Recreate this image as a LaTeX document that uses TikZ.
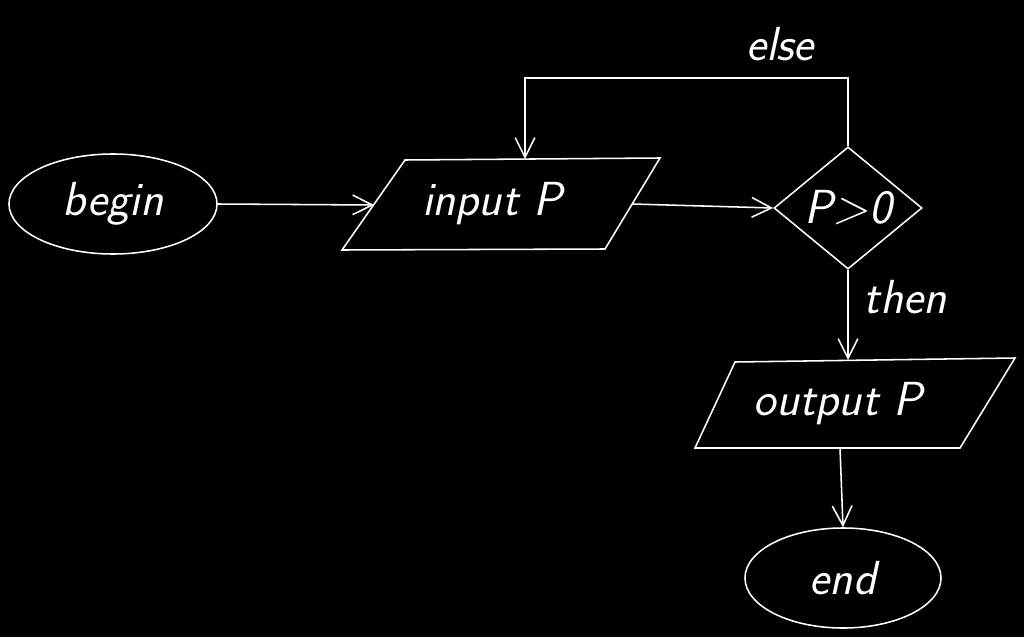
\documentclass[tikz,border=0pt]{standalone}
\usetikzlibrary{shapes.geometric,arrows.meta}
\begin{document}
\begin{tikzpicture}[x=0.025cm,y=-0.025cm,
  line width=1.1pt,
  lbl/.style={text=white,font=\fontsize{34}{40}\selectfont\sffamily\slshape},
  oval/.style={ellipse,draw=white,line width=1.1pt,lbl},
  dec/.style={diamond,draw=white,line width=1.1pt,lbl,inner sep=0pt,minimum width=3.7cm,minimum height=2.85cm},
  arr/.style={-{Straight Barb[length=14pt,width=14pt,line width=1.1pt]},draw=white},
  shp/.style={draw=white,line width=1.1pt}]
\fill[black,draw=none] (0,0) rectangle (1024,637);
\useasboundingbox (0,0) rectangle (1024,637);
% begin
\node[oval,minimum width=5.2cm,minimum height=2.5cm] (begin) at (113,204) {begin};
% input P parallelogram
\draw[shp] (405,160) -- (660,158) -- (605,249) -- (342,250) -- cycle;
\node[lbl] (input) at (492,204) {input P};
\coordinate (inL) at (374,205);
\coordinate (inR) at (632,204);
\coordinate (inTop) at (525,159);
% decision
\node[dec] (dia) at (848,208) {P>0};
% output P parallelogram
\draw[shp] (735,362) -- (1015,358) -- (960,448) -- (695,448) -- cycle;
\node[lbl] (output) at (838,404) {output P};
\coordinate (outTop) at (848,360);
\coordinate (outBot) at (840,448);
% end
\node[oval,minimum width=4.9cm,minimum height=2.5cm] (end) at (843,578) {end};
% connectors
\draw[arr] (begin.east) -- (inL);
\draw[arr] (inR) -- (dia.west);
\draw[arr] (dia.north) -- ++(0,-68) -| (inTop);
\draw[arr] (dia.south) -- (outTop);
\draw[arr] (outBot) -- (end.north);
% labels
\node[lbl] (elselbl) at (780,44) {else};
\node[lbl] (thenlbl) at (905,297) {then};
\end{tikzpicture}
\end{document}
